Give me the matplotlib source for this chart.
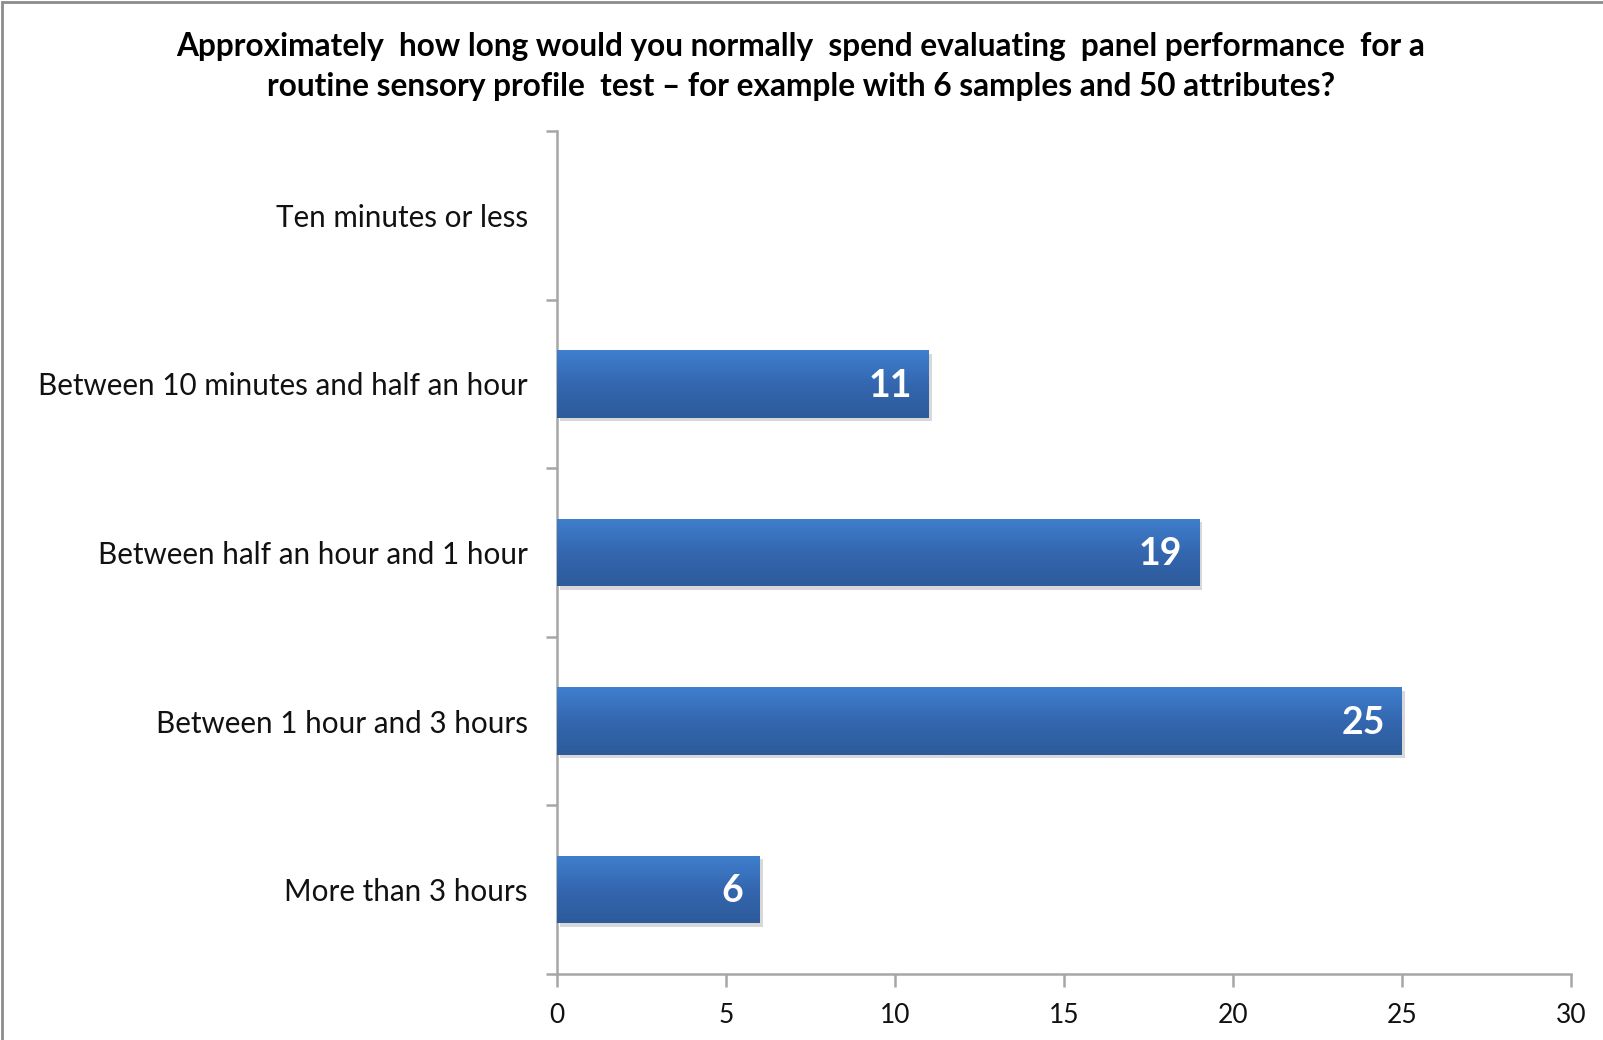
import matplotlib.pyplot as plt
import matplotlib.patheffects as pe
import numpy as np
from matplotlib.colors import LinearSegmentedColormap
from matplotlib.patches import Rectangle

plt.rcParams["font.family"] = ["Lato", "DejaVu Sans"]

TITLE = ("Approximately  how long would you normally  spend evaluating  panel performance  for a\n"
         "routine sensory profile  test \u2013 for example with 6 samples and 50 attributes?")
CATEGORIES = [
    "Ten minutes or less",
    "Between 10 minutes and half an hour",
    "Between half an hour and 1 hour",
    "Between 1 hour and 3 hours",
    "More than 3 hours",
]
COUNTS = [0, 11, 19, 25, 6]
X_TICKS = [0, 5, 10, 15, 20, 25, 30]

AXIS_GREY = "#A6A6A6"
bar_cmap = LinearSegmentedColormap.from_list("bar", ["#3F7FCD", "#3467B0", "#2D5B9B"])

fig = plt.figure(figsize=(16.03, 10.4), dpi=100)
ax = fig.add_axes([0.3475, 0.0635, 0.9800 - 0.3475, 0.874 - 0.0635])

y = np.arange(len(CATEGORIES))
bars = ax.barh(y, COUNTS, height=0.4, color="#3670BA", linewidth=0, zorder=2,
               path_effects=[pe.SimplePatchShadow(offset=(2, -2.5), shadow_rgbFace="#7F7F7F", alpha=0.3),
                             pe.Normal()])

# vertical gradient fill, clipped to each bar
grad = np.linspace(0, 1, 64).reshape(-1, 1)
for rect, v in zip(bars, COUNTS):
    if v <= 0:
        continue
    x0, y0 = rect.get_x(), rect.get_y()
    w, h = rect.get_width(), rect.get_height()
    im = ax.imshow(grad, cmap=bar_cmap, aspect="auto", origin="upper",
                   extent=(x0, x0 + w, y0 + h, y0), zorder=3, interpolation="bilinear")
    im.set_clip_path(rect)
    ax.text(v - 0.5, rect.get_y() + h / 2 + 0.01, f"{v}", ha="right", va="center",
            color="white", fontsize=27, fontweight="bold", zorder=4)

ax.set_xlim(0, 30)
ax.set_ylim(len(CATEGORIES) - 0.5, -0.5)
ax.set_xticks(X_TICKS)
ax.set_xticklabels([str(t) for t in X_TICKS], fontsize=19)
ax.set_yticks(y)
ax.set_yticklabels(CATEGORIES, fontsize=21.3)
ax.set_yticks(np.arange(-0.5, len(CATEGORIES)), minor=True)

ax.tick_params(axis="y", which="major", length=0, pad=21, colors="#111111")
ax.tick_params(axis="y", which="minor", length=8, width=1.8, color=AXIS_GREY)
ax.tick_params(axis="x", which="major", length=9, width=1.8, color=AXIS_GREY,
               pad=12, labelcolor="#111111")

for side in ("top", "right"):
    ax.spines[side].set_visible(False)
for side in ("left", "bottom"):
    ax.spines[side].set_color(AXIS_GREY)
    ax.spines[side].set_linewidth(1.8)

fig.text(0.4995, 0.936, TITLE, ha="center", va="center", fontsize=22.8,
         fontweight="bold", linespacing=1.45, color="#000000")

# chart-area frame along the top and left edges
fig.add_artist(Rectangle((0.0015, -0.01), 1.2, 1.0085, transform=fig.transFigure,
                         fill=False, edgecolor="#8C8C8C", linewidth=2))

fig.savefig("out.png", dpi=100, facecolor="white")
